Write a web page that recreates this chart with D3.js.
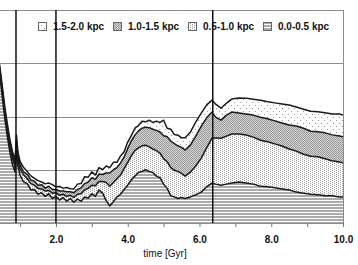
<!DOCTYPE html>
<html>
<head>
<meta charset="utf-8">
<script src="https://cdn.jsdelivr.net/npm/d3@7"></script>
<style>
  body { margin: 0; background: #fff; }
  svg { display: block; font-family: "Liberation Sans", Arial, sans-serif; }
</style>
</head>
<body>
<svg id="chart" width="358" height="265"></svg>
<script>
// time [Gyr]
const times = [0.30, 0.44, 0.51, 0.58, 0.65, 0.72, 0.79, 0.86, 0.90, 0.94,
  1.0, 1.1, 1.2, 1.3, 1.4, 1.5, 1.6, 1.7, 1.8, 1.9, 2.0, 2.1, 2.2, 2.3, 2.4, 2.5, 2.6, 2.7, 2.8, 2.9,
  3.0, 3.1, 3.2, 3.3, 3.4, 3.5, 3.6, 3.7, 3.8, 3.9, 4.0, 4.1, 4.2, 4.3, 4.4, 4.5, 4.6, 4.7, 4.8, 4.9,
  5.0, 5.1, 5.2, 5.3, 5.4, 5.5, 5.6,
  5.75, 5.90, 6.05, 6.20, 6.35, 6.45, 6.60, 6.75, 6.90, 7.10, 7.30, 7.50, 7.70, 7.90, 8.10, 8.30,
  8.50, 8.70, 8.90, 9.10, 9.30, 9.50, 9.70, 9.90, 10.00];

// layer values per radial bin
const bin00 = [34.7, 27.6, 23.3, 19.3, 16.0, 13.1, 10.9, 9.6, 13.7, 10.7,
  9.0, 7.7, 7.4, 6.2, 6.3, 5.4, 5.7, 5.0, 5.5, 4.6, 5.0, 4.3, 4.8, 4.1, 4.6, 3.9, 4.5, 4.1, 4.9, 4.7,
  5.5, 5.0, 6.2, 5.6, 4.2, 3.2, 4.0, 4.9, 5.4, 6.3, 7.1, 8.1, 8.8, 9.5, 9.7, 10.0, 9.7, 9.5, 8.8, 8.5,
  7.3, 6.5, 5.1, 4.9, 4.6, 4.8, 4.6,
  4.9, 5.3, 5.8, 6.8, 7.5, 7.3, 7.1, 7.3, 7.5, 7.7, 7.5, 7.3, 6.9, 6.8, 6.6, 6.4,
  6.2, 5.8, 5.6, 5.4, 5.3, 5.1, 5.1, 4.9, 4.9];
const bin05 = [0.75, 0.75, 0.94, 1.13, 1.13, 1.13, 1.13, 0.94, 0.94, 1.13,
  1.10, 1.30, 0.90, 1.20, 0.80, 1.10, 0.70, 1.00, 0.60, 1.00, 0.70, 0.90, 0.60, 0.90, 0.60, 0.90, 0.90, 1.40, 1.30, 1.80,
  1.60, 2.00, 1.60, 2.20, 3.40, 3.70, 3.60, 3.40, 3.60, 3.90, 4.30, 4.50, 4.80, 4.60, 4.80, 4.60, 4.60, 4.40, 4.80, 4.60,
  4.80, 5.00, 5.30, 5.00, 5.10, 4.50, 4.20,
  4.70, 5.45, 6.39, 7.32, 8.45, 8.64, 8.83, 9.01, 9.20, 9.01, 9.01, 8.83, 8.64, 8.45, 8.26, 8.07,
  7.70, 7.70, 7.32, 7.14, 7.14, 6.95, 6.57, 6.57, 6.39];
const bin10 = [0.38, 0.38, 0.56, 0.56, 0.75, 0.75, 0.75, 0.75, 0.94, 0.75,
  0.75, 0.60, 0.85, 0.70, 0.75, 0.60, 0.80, 0.55, 0.80, 0.70, 0.60, 0.80, 0.60, 0.85, 0.65, 0.90, 0.90, 1.10, 1.20, 1.20,
  1.40, 1.20, 1.40, 1.30, 1.80, 2.50, 2.40, 2.10, 2.30, 2.20, 2.60, 2.80, 2.90, 3.20, 3.30, 3.40, 3.60, 3.70, 3.80, 4.00,
  4.30, 4.70, 5.00, 5.00, 4.80, 4.90, 4.90,
  5.07, 5.63, 6.01, 5.63, 4.88, 3.94, 3.38, 3.94, 4.13, 3.94, 3.94, 4.13, 4.32, 4.32, 4.32, 4.32,
  4.51, 4.70, 4.88, 4.70, 4.70, 4.88, 4.88, 4.88, 4.88];
const bin15 = [0.38, 0.38, 0.56, 0.56, 0.56, 0.56, 0.56, 0.56, 0.94, 0.75,
  0.70, 0.80, 0.50, 0.75, 0.55, 0.85, 0.50, 0.80, 0.60, 0.90, 0.50, 0.85, 0.55, 0.80, 0.60, 0.70, 1.00, 0.80, 1.30, 0.90,
  1.10, 0.80, 1.20, 0.90, 1.30, 1.00, 1.40, 1.00, 1.30, 1.00, 1.20, 1.00, 1.30, 1.00, 1.30, 1.00, 1.40, 1.30, 1.70, 1.80,
  2.90, 1.60, 2.20, 1.70, 2.00, 1.80, 2.30,
  2.44, 2.63, 2.44, 2.44, 2.25, 2.44, 2.25, 2.25, 2.44, 2.82, 3.00, 3.00, 3.19, 3.19, 3.38, 3.57,
  3.76, 3.57, 3.57, 3.76, 3.76, 3.76, 3.94, 4.13, 4.13];

const binKeys = ['b00', 'b05', 'b10', 'b15'];
const binNames = {b00: '0.0-0.5 kpc', b05: '0.5-1.0 kpc', b10: '1.0-1.5 kpc', b15: '1.5-2.0 kpc'};
const legendOrder = ['b15', 'b10', 'b05', 'b00'];
const xTicks = [1, 2, 3, 4, 5, 6, 7, 8, 9, 10];
const xLabels = [2, 4, 6, 8, 10];
const markerTimes = [0.886, 2.0, 6.37];
const yGrid = [10, 20, 30, 40];

const rows = times.map((t, i) => ({t: t, b00: bin00[i], b05: bin05[i], b10: bin10[i], b15: bin15[i]}));

const svg = d3.select('#chart');
const plotLeft = -15.8, plotRight = 343, plotTop = 10, plotBottom = 223;

const x = d3.scaleLinear().domain([0, 10]).range([plotLeft, plotRight]);
const y = d3.scaleLinear().domain([0, 40]).range([plotBottom, plotTop]);

// fill patterns
const defs = svg.append('defs');
let p = defs.append('pattern').attr('id', 'pat-b00').attr('patternUnits', 'userSpaceOnUse')
  .attr('width', 4).attr('height', 3);
p.append('rect').attr('width', 4).attr('height', 3).attr('fill', '#fff');
p.append('rect').attr('width', 4).attr('height', 2).attr('fill', '#ababab');

p = defs.append('pattern').attr('id', 'pat-b05').attr('patternUnits', 'userSpaceOnUse')
  .attr('width', 4).attr('height', 2);
p.append('rect').attr('width', 4).attr('height', 2).attr('fill', '#fff');
p.append('rect').attr('x', 0).attr('y', 0).attr('width', 1).attr('height', 1).attr('fill', '#a0a0a0');
p.append('rect').attr('x', 2).attr('y', 1).attr('width', 1).attr('height', 1).attr('fill', '#a0a0a0');

p = defs.append('pattern').attr('id', 'pat-b10').attr('patternUnits', 'userSpaceOnUse')
  .attr('width', 2).attr('height', 2);
p.append('rect').attr('width', 2).attr('height', 2).attr('fill', '#d4d4d4');
p.append('rect').attr('x', 0).attr('y', 0).attr('width', 1).attr('height', 1).attr('fill', '#999');
p.append('rect').attr('x', 1).attr('y', 1).attr('width', 1).attr('height', 1).attr('fill', '#999');

p = defs.append('pattern').attr('id', 'pat-b15').attr('patternUnits', 'userSpaceOnUse')
  .attr('width', 6).attr('height', 6);
p.append('rect').attr('width', 6).attr('height', 6).attr('fill', '#fff');
p.append('rect').attr('x', 0).attr('y', 0).attr('width', 1).attr('height', 1).attr('fill', '#9a9a9a');
p.append('rect').attr('x', 3).attr('y', 3).attr('width', 1).attr('height', 1).attr('fill', '#9a9a9a');

defs.append('clipPath').attr('id', 'plot-clip')
  .append('rect').attr('x', plotLeft).attr('y', plotTop)
  .attr('width', plotRight - plotLeft).attr('height', plotBottom - plotTop);

// gridlines
svg.append('g').selectAll('line').data(yGrid).join('line')
  .attr('x1', 0).attr('x2', plotRight)
  .attr('y1', d => Math.round(y(d)) + 0.5).attr('y2', d => Math.round(y(d)) + 0.5)
  .attr('stroke', '#8c8c8c').attr('stroke-width', 1);

// stacked areas
const series = d3.stack().keys(binKeys)(rows);
const area = d3.area().x(d => x(d.data.t)).y0(d => y(d[0])).y1(d => y(d[1]));
const line = d3.line().x(d => x(d.data.t)).y(d => y(d[1]));

const plot = svg.append('g').attr('clip-path', 'url(#plot-clip)');
plot.selectAll('path.area').data(series).join('path')
  .attr('class', 'area')
  .attr('fill', d => `url(#pat-${d.key})`)
  .attr('d', area);
plot.selectAll('path.edge').data(series).join('path')
  .attr('class', 'edge')
  .attr('fill', 'none')
  .attr('stroke', '#1a1a1a')
  .attr('stroke-width', 1.5)
  .attr('stroke-linejoin', 'round')
  .attr('d', line);

// frame: right side and bottom
svg.append('line').attr('x1', plotRight + 0.5).attr('x2', plotRight + 0.5)
  .attr('y1', plotTop).attr('y2', plotBottom + 1)
  .attr('stroke', '#8c8c8c');
svg.append('line').attr('x1', 0).attr('x2', plotRight)
  .attr('y1', plotBottom + 0.5).attr('y2', plotBottom + 0.5)
  .attr('stroke', '#8c8c8c');

// event markers
svg.append('g').selectAll('line').data(markerTimes).join('line')
  .attr('x1', d => x(d)).attr('x2', d => x(d))
  .attr('y1', plotTop).attr('y2', plotBottom)
  .attr('stroke', '#111').attr('stroke-width', 1.5);

// x axis
const xAxis = d3.axisBottom(x).tickValues(xTicks).tickSize(4)
  .tickFormat(d => xLabels.includes(d) ? d3.format('.1f')(d) : '');
const gx = svg.append('g').attr('transform', `translate(0,${plotBottom})`).call(xAxis);
gx.select('.domain').remove();
gx.selectAll('.tick line').attr('stroke', '#777');
gx.selectAll('.tick text')
  .attr('y', 20)
  .attr('dy', 0)
  .attr('fill', '#111')
  .style('font-family', '"Liberation Sans", Arial, sans-serif')
  .style('font-size', '10px')
  .style('font-weight', 'bold');

svg.append('text')
  .attr('x', 165).attr('y', 257)
  .attr('text-anchor', 'middle')
  .style('font-size', '10px')
  .attr('fill', '#111')
  .text('time [Gyr]');

// legend
const legend = svg.append('g').selectAll('g').data(legendOrder).join('g')
  .attr('transform', (d, i) => `translate(${38 + i * 75},22)`);
legend.append('rect')
  .attr('x', 0.5).attr('y', 0.5).attr('width', 8).attr('height', 8)
  .attr('fill', d => `url(#pat-${d})`)
  .attr('stroke', '#666');
legend.append('text')
  .attr('x', 15).attr('y', 8)
  .style('font-size', '10px')
  .style('font-weight', 'bold')
  .attr('fill', '#111')
  .text(d => binNames[d]);
</script>
</body>
</html>
